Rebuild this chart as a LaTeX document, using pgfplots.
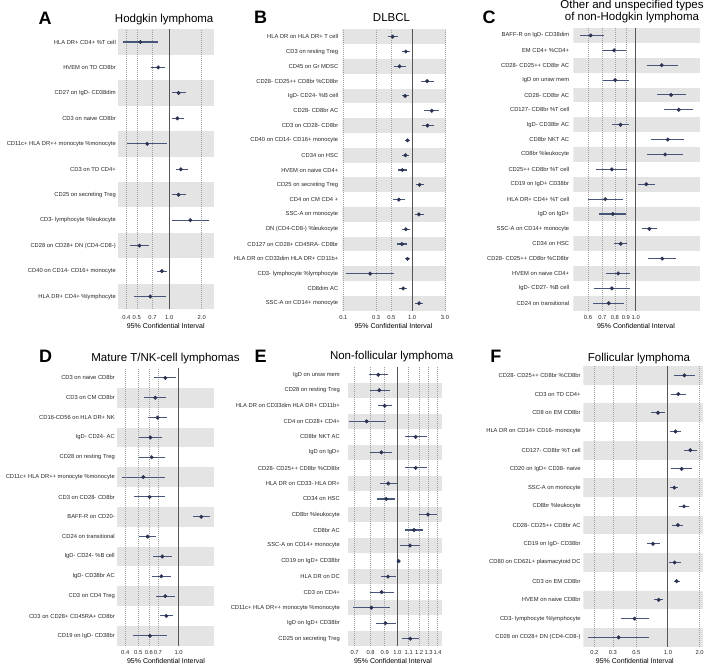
\documentclass[border=0pt]{standalone}
\usepackage{fontspec}
\setmainfont{Liberation Sans}
\usepackage{pgfplots}
\usepackage{pgfplotstable}
\pgfplotsset{compat=1.18}
\definecolor{bandgray}{HTML}{E4E4E4}
\definecolor{ptcol}{HTML}{2A3350}
\definecolor{barcol}{HTML}{48557A}
\definecolor{gridcol}{HTML}{A0A0A0}
\definecolor{onecol}{HTML}{555555}

\newcommand\band[2]{\fill[bandgray] ({rel axis cs:0,0}|-{axis cs:1,#1}) rectangle ({rel axis cs:1,0}|-{axis cs:1,#2});}
\newcommand\vgrid[1]{\draw[gridcol, line width=0.5pt, dash pattern=on 1pt off 1pt] ({axis cs:#1,1}|-{rel axis cs:0,0}) -- ({axis cs:#1,1}|-{rel axis cs:0,1});}
\newcommand\oneline{\draw[onecol, line width=1pt] ({axis cs:1,1}|-{rel axis cs:0,0}) -- ({axis cs:1,1}|-{rel axis cs:0,1});}

\pgfplotsset{
  /pgfplots/fpaxis/.style={
    scale only axis, anchor=north west, y dir=reverse,
    axis line style={draw=none}, major tick length=0pt, minor tick length=0pt,
    tick label style={font=\fontsize{5.8}{6}\selectfont, text=black!85},
    yticklabel style={inner sep=0pt, anchor=east},
    xticklabel style={inner sep=0pt, anchor=base},
  },
  /pgfplots/fpplot/.style={only marks, mark=*, mark size=1.8pt, color=ptcol,
    error bars/.cd, x dir=both, x explicit, error mark=none,
    error bar style={color=barcol, line width=1.1pt}},
}

\pgfplotstableread{
row est lo hi
1 0.54 0.37 0.79
2 0.79 0.68 0.92
3 1.22 1.07 1.42
4 1.19 1.06 1.36
5 0.625 0.41 0.95
6 1.28 1.15 1.48
7 1.22 1.05 1.42
8 1.57 1.07 2.33
9 0.53 0.43 0.65
10 0.855 0.77 0.96
11 0.667 0.47 0.925
}\tA

\pgfplotstableread{
row est lo hi
1 0.52 0.44 0.63
2 0.81 0.71 0.935
3 0.655 0.55 0.82
4 1.65 1.35 2.09
5 0.79 0.70 0.895
6 1.93 1.49 2.49
7 1.67 1.37 2.06
8 0.855 0.78 0.935
9 0.80 0.716 0.90
10 0.72 0.63 0.85
11 1.28 1.13 1.51
12 0.64 0.53 0.78
13 1.25 1.09 1.48
14 0.81 0.716 0.915
15 0.71 0.61 0.83
16 0.855 0.79 0.915
17 0.245 0.111 0.54
18 0.74 0.65 0.855
19 1.26 1.11 1.44
}\tB

\pgfplotstableread{
row est lo hi
1 0.618 0.549 0.709
2 0.794 0.699 0.902
3 1.32 1.124 1.57
4 0.803 0.704 0.928
5 1.46 1.255 1.71
6 1.585 1.36 1.85
7 0.85 0.778 0.928
8 1.41 1.18 1.68
9 1.37 1.128 1.66
10 0.775 0.656 0.915
11 1.12 1.025 1.224
12 0.722 0.598 0.874
13 0.783 0.677 0.899
14 1.157 1.066 1.259
15 0.852 0.794 0.912
16 1.328 1.136 1.547
17 0.829 0.729 0.945
18 0.775 0.64 0.942
19 0.75 0.635 0.886
}\tC

\pgfplotstableread{
row est lo hi
1 0.795 0.658 0.961
2 0.67 0.554 0.809
3 0.697 0.594 0.823
4 0.615 0.503 0.751
5 0.629 0.503 0.786
6 0.545 0.378 0.786
7 0.607 0.467 0.791
8 1.476 1.287 1.703
9 0.587 0.509 0.677
10 0.755 0.647 0.887
11 0.743 0.636 0.877
12 0.795 0.674 0.939
13 0.809 0.721 0.907
14 0.611 0.459 0.814
}\tD

\pgfplotstableread{
row est lo hi
1 0.853 0.791 0.922
2 0.86 0.793 0.938
3 0.90 0.848 0.956
4 0.774 0.665 0.912
5 1.166 1.066 1.281
6 0.875 0.798 0.959
7 1.166 1.066 1.278
8 0.927 0.865 1.0
9 0.912 0.846 0.978
10 1.292 1.199 1.397
11 1.15 1.069 1.236
12 1.112 1.025 1.212
13 1.011 1.003 1.022
14 0.925 0.87 0.986
15 0.877 0.793 0.972
16 0.805 0.688 0.938
17 0.905 0.834 0.989
18 1.115 1.037 1.202
}\tE

\pgfplotstableread{
row est lo hi
1 1.43 1.14 1.79
2 1.253 1.068 1.48
3 0.804 0.695 0.93
4 1.18 1.045 1.339
5 1.63 1.419 1.899
6 1.348 1.075 1.69
7 1.148 1.045 1.244
8 1.419 1.262 1.594
9 1.244 1.099 1.398
10 0.72 0.627 0.846
11 1.157 1.015 1.329
12 1.208 1.132 1.29
13 0.815 0.736 0.897
14 0.483 0.355 0.66
15 0.34 0.175 0.665
}\tF

\begin{document}
\begin{tikzpicture}
\useasboundingbox (0pt,0pt) rectangle (709pt,668pt);

% ---------------- A ----------------
\begin{axis}[fpaxis, xmode=log, at={(118pt,638.7pt)}, width=96pt, height=280pt,
  xmin=0.335, xmax=2.6, ymin=0.5, ymax=11.5,
  xtick={0.4,0.5,0.7,1,2}, xticklabels={0.4,0.5,0.7,1.0,2.0},
  xticklabel style={yshift=-10pt},
  ytick={1,...,11}, yticklabel style={xshift=-2pt},
  yticklabels={HLA DR+ CD4+ \%T cell, HVEM on TD CD8br, CD27 on IgD- CD38dim, CD3 on naive CD8br,
   CD11c+ HLA DR++ monocyte \%monocyte, CD3 on TD CD4+, CD25 on secreting Treg, CD3- lymphocyte \%leukocyte,
   CD28 on CD28+ DN (CD4-CD8-), CD40 on CD14- CD16+ monocyte, HLA DR+ CD4+ \%lymphocyte}]
\band{0.5}{1.5}\band{2.5}{3.5}\band{4.5}{5.5}\band{6.5}{7.5}\band{8.5}{9.5}\band{10.5}{11.5}
\vgrid{0.4}\vgrid{0.5}\vgrid{0.7}\vgrid{2}
\oneline
\addplot[fpplot] table[x=est, y=row, x error plus expr=\thisrow{hi}-\thisrow{est}, x error minus expr=\thisrow{est}-\thisrow{lo}] {\tA};
\end{axis}

% ---------------- B ----------------
\begin{axis}[fpaxis, xmode=log, at={(342.4pt,638.7pt)}, width=103.6pt, height=281.4pt,
  xmin=0.097, xmax=3.1, ymin=0.5, ymax=19.5,
  xtick={0.1,0.3,0.5,1,3}, xticklabels={0.1,0.3,0.5,1.0,3.0},
  xticklabel style={yshift=-8.6pt},
  ytick={1,...,19}, yticklabel style={xshift=-4pt},
  yticklabels={HLA DR on HLA DR+ T cell, CD3 on resting Treg, CD45 on Gr MDSC, CD28- CD25++ CD8br \%CD8br,
   IgD- CD24- \%B cell, CD28- CD8br AC, CD3 on CD28- CD8br, CD40 on CD14- CD16+ monocyte, CD34 on HSC,
   HVEM on naive CD4+, CD25 on secreting Treg, CD4 on CM CD4 +, SSC-A on monocyte, DN (CD4-CD8-) \%leukocyte,
   CD127 on CD28+ CD45RA- CD8br, HLA DR on CD33dim HLA DR+ CD11b+, CD3- lymphocyte \%lymphocyte, CD8dim AC,
   SSC-A on CD14+ monocyte}]
\band{0.5}{1.5}\band{2.5}{3.5}\band{4.5}{5.5}\band{6.5}{7.5}\band{8.5}{9.5}\band{10.5}{11.5}
\band{12.5}{13.5}\band{14.5}{15.5}\band{16.5}{17.5}\band{18.5}{19.5}
\vgrid{0.1}\vgrid{0.3}\vgrid{0.5}\vgrid{3}
\oneline
\addplot[fpplot] table[x=est, y=row, x error plus expr=\thisrow{hi}-\thisrow{est}, x error minus expr=\thisrow{est}-\thisrow{lo}] {\tB};
\end{axis}

% ---------------- C ----------------
\begin{axis}[fpaxis, xmode=log, at={(573.3pt,640pt)}, width=126.7pt, height=282.7pt,
  xmin=0.513, xmax=1.99, ymin=0.5, ymax=19.5,
  xtick={0.6,0.7,0.8,0.9,1}, xticklabels={0.6,0.7,0.8,0.9,1.0},
  xticklabel style={yshift=-8.6pt},
  ytick={1,...,19}, yticklabel style={xshift=-4pt},
  yticklabels={BAFF-R on IgD- CD38dim, EM CD4+ \%CD4+, CD28- CD25++ CD8br AC, IgD on unsw mem,
   CD28- CD8br AC, CD127- CD8br \%T cell, IgD- CD38br AC, CD8br NKT AC, CD8br \%leukocyte,
   CD25++ CD8br \%T cell, CD19 on IgD+ CD38br, HLA DR+ CD4+ \%T cell, IgD on IgD+, SSC-A on CD14+ monocyte,
   CD34 on HSC, CD28- CD25++ CD8br \%CD8br, HVEM on naive CD4+, IgD- CD27- \%B cell, CD24 on transitional}]
\band{0.5}{1.5}\band{2.5}{3.5}\band{4.5}{5.5}\band{6.5}{7.5}\band{8.5}{9.5}\band{10.5}{11.5}
\band{12.5}{13.5}\band{14.5}{15.5}\band{16.5}{17.5}\band{18.5}{19.5}
\vgrid{0.6}\vgrid{0.7}\vgrid{0.8}\vgrid{0.9}
\oneline
\addplot[fpplot] table[x=est, y=row, x error plus expr=\thisrow{hi}-\thisrow{est}, x error minus expr=\thisrow{est}-\thisrow{lo}] {\tC};
\end{axis}

% ---------------- D ----------------
\begin{axis}[fpaxis, xmode=log, at={(117pt,300pt)}, width=97.3pt, height=277.7pt,
  xmin=0.347, xmax=1.845, ymin=0.5, ymax=14.5,
  xtick={0.4,0.5,0.6,0.7,1}, xticklabels={0.4,0.5,0.6,0.7,1.0},
  xticklabel style={yshift=-8.6pt},
  ytick={1,...,14}, yticklabel style={xshift=-2pt},
  yticklabels={CD3 on naive CD8br, CD3 on CM CD8br, CD16-CD56 on HLA DR+ NK, IgD- CD24- AC,
   CD28 on resting Treg, CD11c+ HLA DR++ monocyte \%monocyte, CD3 on CD28- CD8br, BAFF-R on CD20-,
   CD24 on transitional, IgD- CD24- \%B cell, IgD- CD38br AC, CD3 on CD4 Treg,
   CD3 on CD28+ CD45RA+ CD8br, CD19 on IgD- CD38br}]
\band{1.5}{2.5}\band{3.5}{4.5}\band{5.5}{6.5}\band{7.5}{8.5}\band{9.5}{10.5}\band{11.5}{12.5}\band{13.5}{14.5}
\vgrid{0.4}\vgrid{0.5}\vgrid{0.6}\vgrid{0.7}
\oneline
\addplot[fpplot] table[x=est, y=row, x error plus expr=\thisrow{hi}-\thisrow{est}, x error minus expr=\thisrow{est}-\thisrow{lo}] {\tD};
\end{axis}

% ---------------- E ----------------
\begin{axis}[fpaxis, xmode=log, at={(348pt,301pt)}, width=94.3pt, height=279.5pt,
  xmin=0.662, xmax=1.457, ymin=0.5, ymax=18.5,
  xtick={0.7,0.8,0.9,1,1.1,1.2,1.3,1.4}, xticklabels={0.7,0.8,0.9,1.0,1.1,1.2,1.3,1.4},
  xticklabel style={yshift=-7.8pt},
  ytick={1,...,18}, yticklabel style={xshift=-8pt},
  yticklabels={IgD on unsw mem, CD28 on resting Treg, HLA DR on CD33dim HLA DR+ CD11b+, CD4 on CD28+ CD4+,
   CD8br NKT AC, IgD on IgD+, CD28- CD25++ CD8br \%CD8br, HLA DR on CD33- HLA DR+, CD34 on HSC,
   CD8br \%leukocyte, CD8br AC, SSC-A on CD14+ monocyte, CD19 on IgD+ CD38br, HLA DR on DC, CD3 on CD4+,
   CD11c+ HLA DR++ monocyte \%monocyte, IgD on IgD+ CD38br, CD25 on secreting Treg}]
\band{1.5}{2.5}\band{3.5}{4.5}\band{5.5}{6.5}\band{7.5}{8.5}\band{9.5}{10.5}\band{11.5}{12.5}
\band{13.5}{14.5}\band{15.5}{16.5}\band{17.5}{18.5}
\vgrid{0.7}\vgrid{0.8}\vgrid{0.9}\vgrid{1.1}\vgrid{1.2}\vgrid{1.3}\vgrid{1.4}
\oneline
\addplot[fpplot] table[x=est, y=row, x error plus expr=\thisrow{hi}-\thisrow{est}, x error minus expr=\thisrow{est}-\thisrow{lo}] {\tE};
\end{axis}

% ---------------- F ----------------
\begin{axis}[fpaxis, xmode=log, at={(583.3pt,302pt)}, width=120pt, height=280.7pt,
  xmin=0.157, xmax=2.165, ymin=0.5, ymax=15.5,
  xtick={0.2,0.3,0.5,1,2}, xticklabels={0.2,0.3,0.5,1.0,2.0},
  xticklabel style={yshift=-7.6pt},
  ytick={1,...,15}, yticklabel style={xshift=-2.5pt},
  yticklabels={CD28- CD25++ CD8br \%CD8br, CD3 on TD CD4+, CD8 on EM CD8br, HLA DR on CD14+ CD16- monocyte,
   CD127- CD8br \%T cell, CD20 on IgD+ CD38- naive, SSC-A on monocyte, CD8br \%leukocyte,
   CD28- CD25++ CD8br AC, CD19 on IgD- CD38br, CD80 on CD62L+ plasmacytoid DC, CD3 on EM CD8br,
   HVEM on naive CD8br, CD3- lymphocyte \%lymphocyte, CD28 on CD28+ DN (CD4-CD8-)}]
\band{0.5}{1.5}\band{2.5}{3.5}\band{4.5}{5.5}\band{6.5}{7.5}\band{8.5}{9.5}\band{10.5}{11.5}
\band{12.5}{13.5}\band{14.5}{15.5}
\vgrid{0.2}\vgrid{0.3}\vgrid{0.5}\vgrid{2}
\oneline
\addplot[fpplot] table[x=est, y=row, x error plus expr=\thisrow{hi}-\thisrow{est}, x error minus expr=\thisrow{est}-\thisrow{lo}] {\tF};
\end{axis}

% ---------------- texts ----------------
\begin{scope}[every node/.style={inner sep=0pt}]
\node[font=\fontsize{18}{18}\selectfont\bfseries] at (45pt,649.3pt) {A};
\node[font=\fontsize{18}{18}\selectfont\bfseries] at (260.5pt,650.5pt) {B};
\node[font=\fontsize{18}{18}\selectfont\bfseries] at (489pt,650.5pt) {C};
\node[font=\fontsize{18}{18}\selectfont\bfseries] at (45.5pt,311.3pt) {D};
\node[font=\fontsize{18}{18}\selectfont\bfseries] at (260.7pt,311.3pt) {E};
\node[font=\fontsize{18}{18}\selectfont\bfseries] at (495.8pt,311.3pt) {F};

\node[font=\fontsize{11.5}{12}\selectfont] at (164.2pt,648.3pt) {Hodgkin lymphoma};
\node[font=\fontsize{11.5}{12}\selectfont] at (391.5pt,650.7pt) {DLBCL};
\node[font=\fontsize{11.5}{12}\selectfont, align=center] at (632pt,656.3pt) {Other and unspecified types\\of non-Hodgkin lymphoma};
\node[font=\fontsize{11.5}{12}\selectfont] at (165.5pt,309.7pt) {Mature T/NK-cell lymphomas};
\node[font=\fontsize{11.5}{12}\selectfont] at (391.7pt,311.3pt) {Non-follicular lymphoma};
\node[font=\fontsize{11.5}{12}\selectfont] at (639pt,309.7pt) {Follicular lymphoma};

\node[font=\fontsize{7}{8}\selectfont] at (165.8pt,342.3pt) {95\% Confidential Interval};
\node[font=\fontsize{7}{8}\selectfont] at (393.5pt,342.3pt) {95\% Confidential Interval};
\node[font=\fontsize{7}{8}\selectfont] at (636pt,342.3pt) {95\% Confidential Interval};
\node[font=\fontsize{7}{8}\selectfont] at (166pt,7.3pt) {95\% Confidential Interval};
\node[font=\fontsize{7}{8}\selectfont] at (393pt,7.3pt) {95\% Confidential Interval};
\node[font=\fontsize{7}{8}\selectfont] at (634.8pt,7.3pt) {95\% Confidential Interval};
\end{scope}
\end{tikzpicture}
\end{document}
